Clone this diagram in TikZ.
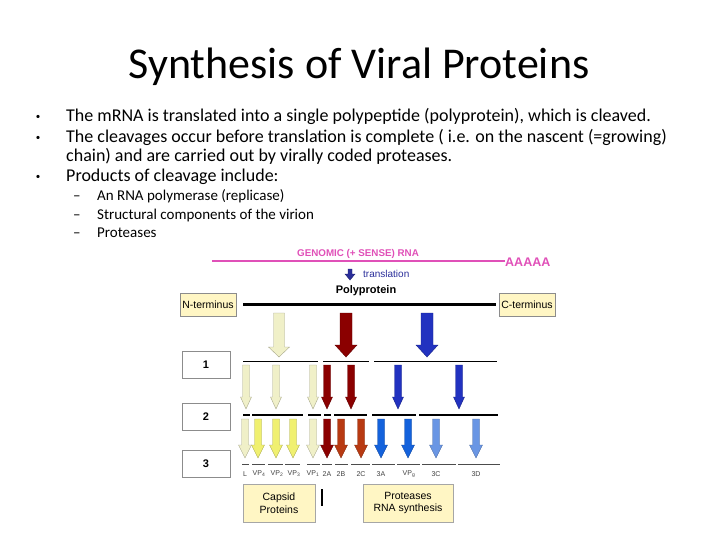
\documentclass[tikz,border=0pt]{standalone}
\usepackage{fontspec}
\setmainfont{Carlito}
\newfontfamily\diagfont{Liberation Sans}
\usepackage{xcolor}
\usetikzlibrary{positioning}

\definecolor{rnapink}{HTML}{E050B8}
\definecolor{transblue}{HTML}{2A2E9A}
\definecolor{cream}{HTML}{F0F0C8}
\definecolor{capyellow}{HTML}{F0F070}
\definecolor{darkred}{HTML}{8B0000}
\definecolor{rust}{HTML}{B83A12}
\definecolor{deepblue}{HTML}{2232C0}
\definecolor{midblue}{HTML}{1462DC}
\definecolor{paleblue}{HTML}{6A96E4}
\definecolor{boxyellow}{HTML}{FFF6C4}

% block arrow: x, top, head start, tip, half shaft, half head, colour
\newcommand{\cleave}[7]{%
  \filldraw[fill=#7, draw=#7!70!black, line width=0.4pt]
    (#1-#5,#2) -- (#1+#5,#2) -- (#1+#5,#3) -- (#1+#6,#3) -- (#1,#4)
    -- (#1-#6,#3) -- (#1-#5,#3) -- cycle;}

\begin{document}
\begin{tikzpicture}[x=1pt, y=-1pt,
    bul/.style={anchor=base west, inner sep=0pt, font=\fontsize{18}{21}\selectfont},
    subbul/.style={anchor=base west, inner sep=0pt, font=\fontsize{15}{18}\selectfont},
    dot/.style={inner sep=0pt, font=\fontsize{9}{10}\selectfont},
    termbox/.style={draw=black!45, fill=boxyellow, minimum width=56pt, minimum height=23pt,
      inner sep=1pt, font=\diagfont\fontsize{10.5}{12}\selectfont},
    numbox/.style={draw=black!45, fill=white, minimum width=48pt, minimum height=27pt,
      font=\diagfont\bfseries\fontsize{11}{12}\selectfont},
    legbox/.style={draw=black!35, fill=boxyellow, minimum height=38pt, align=center,
      font=\diagfont\fontsize{10.5}{12.5}\selectfont},
    lbl/.style={inner sep=0pt, text=black!75, font=\diagfont\fontsize{7}{8}\selectfont}]
  \useasboundingbox (0,0) rectangle (720,540);

  % title and bullets
  \node[font=\fontsize{44}{50}\selectfont] (title) at (359,67) {Synthesis of Viral Proteins};
  \node[bul] (b1) at (66,122) {The mRNA is translated into a single polypeptide (polyprotein), which is cleaved.};
  \node[bul] (b2) at (66,143) {The cleavages occur before translation is complete ( i.e. on the nascent (=growing)};
  \node[bul] (b2b) at (66,162) {chain) and are carried out by virally coded proteases.};
  \node[bul] (b3) at (66,182) {Products of cleavage include:};
  \node[dot] (d1) at (38,117) {\textbullet};
  \node[dot] (d2) at (38,138) {\textbullet};
  \node[dot] (d3) at (38,177) {\textbullet};
  \node[subbul] (s1) at (97,201) {An RNA polymerase (replicase)};
  \node[subbul] (s2) at (97,219) {Structural components of the virion};
  \node[subbul] (s3) at (97,237) {Proteases};
  \node[subbul] (e1) at (73,201) {--};
  \node[subbul] (e2) at (73,219) {--};
  \node[subbul] (e3) at (73,237) {--};

  % genome and polyprotein
  \draw[rnapink, line width=2.5pt] (212,261) -- (505,261);
  \node[text=rnapink, font=\diagfont\bfseries\fontsize{9.8}{11}\selectfont] (genome) at (358,254) {GENOMIC (+ SENSE) RNA};
  \node[anchor=west, inner sep=0pt, text=rnapink, font=\diagfont\bfseries\fontsize{12.5}{14}\selectfont] (polya) at (505,262) {AAAAA};
  \cleave{350}{269}{274}{280}{2}{5}{transblue}
  \node[anchor=west, inner sep=0pt, text=transblue, font=\diagfont\fontsize{10}{12}\selectfont] (transl) at (363,274) {translation};
  \node[font=\diagfont\bfseries\fontsize{11}{13}\selectfont] (poly) at (366,291) {Polyprotein};
  \node[termbox] (nterm) at (208,304.5) {N-terminus};
  \node[termbox] (cterm) at (527,304.5) {C-terminus};
  \draw[line width=2.5pt] (nterm.east) ++(7,0) -- ([xshift=-3pt]cterm.west);

  % first cleavage
  \cleave{279}{313}{347}{357}{5.5}{10.5}{cream}
  \cleave{346}{313}{345}{357}{6}{11}{darkred}
  \cleave{427}{313}{345}{357}{6}{11}{deepblue}
  \node[numbox] (n1) at (206,364.5) {1};
  \foreach \a/\b in {243/318, 323/369, 374/497}
    \draw[line width=1pt] (\a,361) -- (\b,361);

  % second cleavage
  \foreach \x/\c in {246/cream, 276/cream, 313/cream, 327/darkred, 351/darkred, 398/deepblue, 459/deepblue}
    \cleave{\x}{365}{397}{409}{3.5}{5.5}{\c};
  \node[numbox] (n2) at (206,416.5) {2};
  \foreach \a/\b in {243/250, 252/303, 308/321, 324/331, 334/367, 372/416}
    \draw[line width=1.2pt] (\a,415) -- (\b,415);
  \draw[line width=1.8pt] (419,415) -- (498,415);

  % final products
  \foreach \x/\c in {245/cream, 258/capyellow, 276/capyellow, 293/capyellow, 313/cream, 327/darkred,
      341/rust, 361/rust, 381/midblue, 408/midblue, 436/paleblue, 476/paleblue}
    \cleave{\x}{419}{445}{458}{3.5}{6.5}{\c};
  \node[numbox] (n3) at (206,464) {3};
  \foreach \a/\b in {242/249, 252/265, 268/283, 285/300, 307/320, 322/332, 335/348, 351/370,
      372/395, 397/420, 422/456, 458/500}
    \draw[black!70, line width=0.9pt] (\a,464) -- (\b,464);

  \node[lbl] (pL) at (245,474) {L};
  \node[lbl] (pVP4) at (259,474) {VP\textsubscript{4}};
  \node[lbl] (pVP2) at (277,474) {VP\textsubscript{2}};
  \node[lbl] (pVP3) at (294,474) {VP\textsubscript{3}};
  \node[lbl] (pVP1) at (313,474) {VP\textsubscript{1}};
  \node[lbl] (p2A) at (327,474) {2A};
  \node[lbl] (p2B) at (341,474) {2B};
  \node[lbl] (p2C) at (361,474) {2C};
  \node[lbl] (p3A) at (381,474) {3A};
  \node[lbl] (pVPg) at (409,474) {VP\textsubscript{g}};
  \node[lbl] (p3C) at (436,474) {3C};
  \node[lbl] (p3D) at (476,474) {3D};

  % product groups
  \node[legbox, minimum width=72pt] (capsid) at (279,503) {Capsid\\Proteins};
  \node[legbox, minimum width=90pt] (prot) at (408,503) {Proteases\\RNA synthesis};
  \draw[line width=1.6pt] (322,489) -- (322,506);
\end{tikzpicture}
\end{document}
